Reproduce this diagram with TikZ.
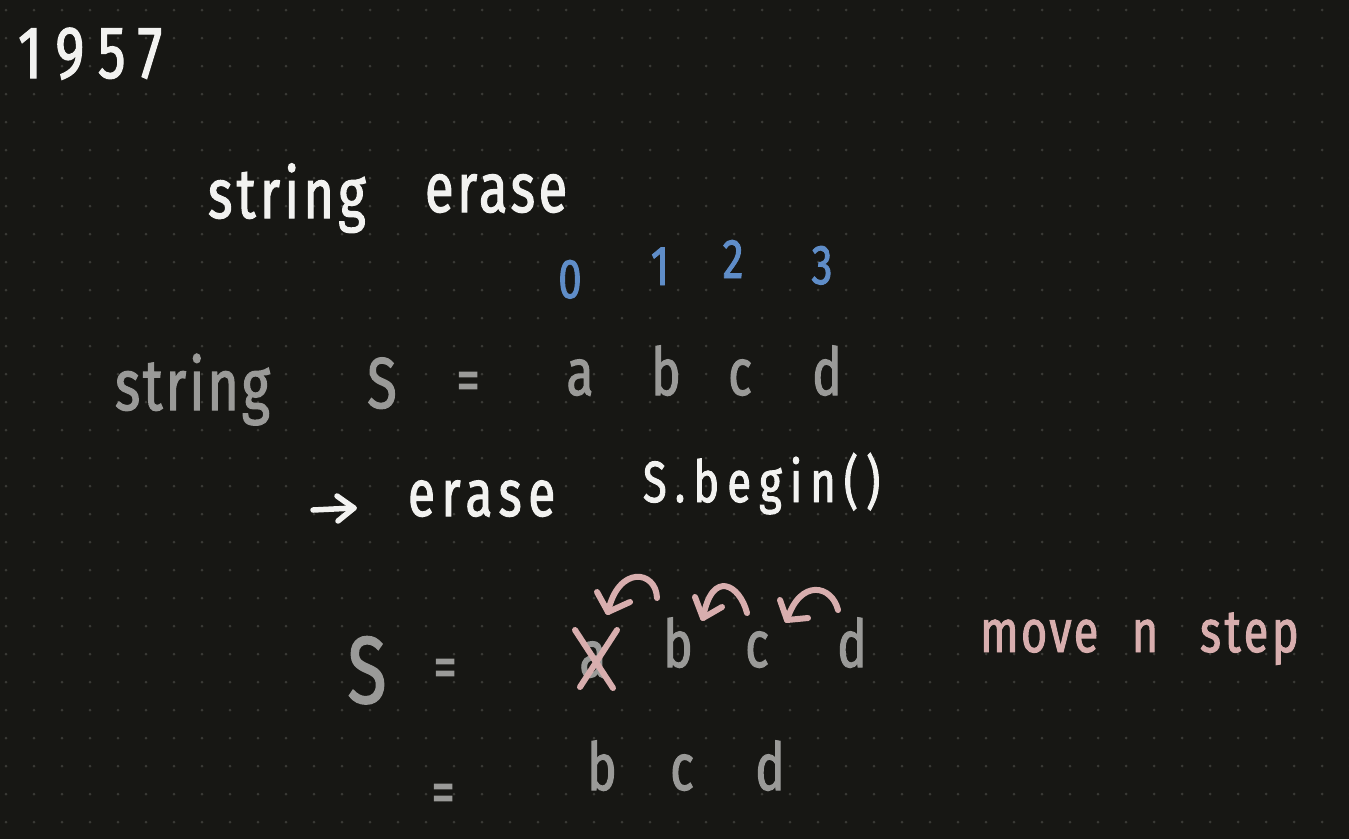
\documentclass[tikz,border=0pt]{standalone}
\usepackage{fontspec}
\newfontfamily\hand[FakeStretch=0.75,FakeBold=1.6]{Fira Sans}
\newcommand{\hw}[2][0]{\fontsize{#2}{#2}\selectfont\hand\addfontfeatures{LetterSpace=#1}}
\definecolor{bg}{HTML}{171714}
\definecolor{dotc}{HTML}{3A3A36}
\definecolor{inkw}{HTML}{F2F2F0}
\definecolor{inkg}{HTML}{9A9A98}
\definecolor{inkb}{HTML}{5F8DC8}
\definecolor{inkp}{HTML}{D8AEAE}
\begin{document}
\begin{tikzpicture}[x=1pt,y=-1pt,
  txt/.style={inner sep=0pt, outer sep=0pt, anchor=base},
  txtw/.style={txt, anchor=base west},
  white/.style={text=inkw},
  gray/.style={text=inkg},
  blue/.style={text=inkb},
  pink/.style={text=inkp},
  stroke/.style={draw=inkp, line width=6, line cap=round, line join=round},
  wstroke/.style={draw=inkw, line width=5.5, line cap=round, line join=round}]
\fill[bg] (0,0) rectangle (1349,839);
\useasboundingbox (0,0) rectangle (1349,839);
\foreach \i in {0,...,48}{\foreach \j in {0,...,29}{\fill[dotc] (6+28*\i,10+28*\j) circle[radius=1.5];}}

% title
\node[txtw, white] (year) at (18,78) {\hw[18]{74}1957};
\node[txtw, white] (w1) at (208,218) {\hw[6]{70}string};
\node[txtw, white] (w2) at (425,212) {\hw[5]{70}erase};

% indices
\node[txt, blue] (i0) at (570,298) {\hw{56}0};
\node[txt, blue] (i1) at (660,285) {\hw{56}1};
\node[txt, blue] (i2) at (733,278) {\hw{56}2};
\node[txt, blue] (i3) at (822,284) {\hw{56}3};

% string S = a b c d
\node[txtw, gray] (decl) at (115,410) {\hw[4]{72}string};
\node[txt, gray] (s1) at (382,408) {\hw{72}S};
\node[txt, gray] (eq1) at (468,401) {\hw{62}=};
\node[txt, gray] (a1) at (580,395) {\hw{66}a};
\node[txt, gray] (b1) at (666,395) {\hw{66}b};
\node[txt, gray] (c1) at (740,395) {\hw{66}c};
\node[txt, gray] (d1) at (827,395) {\hw{66}d};

% -> erase s.begin()
\coordinate (ar0) at (313,510);
\coordinate (ar1) at (354,508);
\draw[wstroke] (ar0) -- (ar1);
\draw[wstroke] (337,496) -- (ar1) -- (338,521);
\node[txtw, white] (w3) at (408,516) {\hw[10]{66}erase};
\node[txtw, white] (w4) at (643,502) {\hw[14]{58}S.begin()};

% S = a b c d with erase
\node[txt, gray] (s2) at (367,703) {\hw{95}S};
\node[txt, gray] (eq2) at (445,688) {\hw{62}=};
\node[txt, gray] (a2) at (593,677) {\hw{66}a};
\node[txt, gray] (b2) at (678,667) {\hw{66}b};
\node[txt, gray] (c2) at (757,667) {\hw{66}c};
\node[txt, gray] (d2) at (852,667) {\hw{66}d};

% cross over a
\draw[stroke] (575,630) -- (613,688);
\draw[stroke] (617,630) -- (580,687);

% move arrows
\draw[stroke] (657,598) .. controls (656,570) and (618,565) .. (608,612);
\draw[stroke] (597,592) -- (608,612) -- (630,602);
\draw[stroke] (747,613) .. controls (740,585) and (712,568) .. (703,618);
\draw[stroke] (695,597) -- (703,618) -- (722,607);
\draw[stroke] (838,610) .. controls (832,585) and (800,578) .. (787,620);
\draw[stroke] (780,600) -- (787,620) -- (808,618);

\node[txtw, pink] (m1) at (980,652) {\hw[4]{60}move};
\node[txt, pink] (m2) at (1145,652) {\hw{60}n};
\node[txtw, pink] (m3) at (1200,652) {\hw[6]{60}step};

% = b c d
\node[txt, gray] (eq3) at (443,813) {\hw{62}=};
\node[txt, gray] (b3) at (602,790) {\hw{66}b};
\node[txt, gray] (c3) at (682,790) {\hw{66}c};
\node[txt, gray] (d3) at (770,790) {\hw{66}d};
\end{tikzpicture}
\end{document}
